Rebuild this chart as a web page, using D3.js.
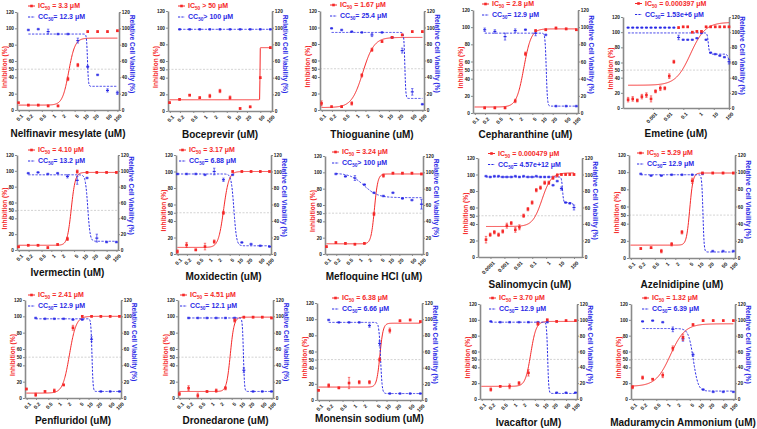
<!DOCTYPE html>
<html><head><meta charset="utf-8">
<script src="https://cdn.jsdelivr.net/npm/d3@7"></script>
<style>
body{margin:0;background:#fff;}
svg{display:block;font-family:"Liberation Sans",Arial,sans-serif;}
</style></head>
<body><svg id="c" width="757" height="429"></svg>
<script>
// ---------------- DATA ----------------
const drugNames = ["Nelfinavir mesylate (uM)","Boceprevir (uM)","Thioguanine (uM)","Cepharanthine (uM)","Emetine (uM)",
  "Ivermectin (uM)","Moxidectin (uM)","Mefloquine HCl (uM)","Salinomycin (uM)","Azelnidipine (uM)",
  "Penfluridol (uM)","Dronedarone (uM)","Monensin sodium (uM)","Ivacaftor (uM)","Maduramycin Ammonium (uM)"];
const ic50Labels = [" = 3.3 μM"," > 50 μM"," = 1.67 μM"," = 2.8 μM"," = 0.000397 μM"," = 4.10 μM"," = 3.17 μM"," = 3.24 μM"," = 0.000479 μM"," = 5.29 μM"," = 2.41 μM"," = 4.51 μM"," = 6.38 μM"," = 3.70 μM"," = 1.32 μM"];
const cc50Labels = ["= 12.3 μM","> 100 μM","= 25.4 μM","= 12.9 μM","= 1.53e+6  μM","= 13.2 μM","= 6.88 μM","> 100 μM","= 4.57e+12 μM","= 12.9 μM","= 12.9 μM","= 12.1 μM","= 6.66 μM","= 12.9 μM","= 6.39 μM"];
const stdTicks = [0.1,0.2,0.5,1,2,5,10,20,50,100];
const emetineTicks = [0.001,0.01,0.1,1,10,100];
const salinoTicks = [0.0001,0.001,0.01,0.1,1,10,100];
const yTicksLeft = [0,20,40,50,60,80,100,120];
const yTicksRight = [0,20,40,60,80,100,120];
const concStd = [0.098,0.195,0.39,0.78,1.56,3.13,6.25,12.5,25,50,100];
const concEmetine = [0.0000238,0.0000477,0.0000954,0.00019,0.00038,0.00076,0.0015,0.0031,0.0061,0.012,0.024,0.049,0.098,0.195,0.39,0.78,1.56,3.13,6.25,12.5,25,50,100];
const concSalino = [0.0000477,0.0000954,0.00019,0.00038,0.00076,0.0015,0.0031,0.0061,0.012,0.024,0.049,0.098,0.195,0.39,0.78,1.56,3.13,6.25,12.5,25,50,100];
// inhibition (%) per panel (null = no point)
const inhibition = [
  [9,6,6,5,5,38,55,96,96,96,97],
  [10,14,19,16,18,24,16,3,5,40,76],
  [8,4,4,8,42,73,83,88,91,95,95],
  [null,6,6,6,14,69,96,97,99,98,97],
  [11,12,10,15,17,12,22,26,26,42,61,106,107,107,100,101,101,107,107,107,107,107,107],
  [4,6,6,3,7,14,99,98,98,98,98],
  [3,11,5,9,15,50,100,100,100,100,100],
  [9,14,13,12,13,49,96,99,99,99,98],
  [21,27,30,27,31,38,41,33,36,50,58,66,81,84,90,90,96,99,100,100,100,100],
  [null,11,12,8,16,30,90,99,99,99,99],
  [11,4,8,9,16,86,100,100,100,100,100],
  [5,12,3,8,9,12,95,99,99,99,98],
  [12,18,15,21,22,22,50,86,98,99,97],
  [null,12,16,16,20,33,95,100,98,99,99],
  [15,27,25,30,64,78,94,99,99,99,99]
];
const inhibitionErr = [
  [0,1,1,1,1,2,2,1,1,1,1],[1,1,1,1,2,2,2,1,1,1,1],[3,1,1,2,2,2,1,1,1,1,1],[0,1,1,1,2,2,1,1,1,1,1],
  [3,3,2,3,3,4,2,3,2,3,2,1,1,1,1,1,1,1,1,1,1,1,1],
  [1,1,1,1,1,2,2,1,1,1,1],[2,3,1,4,2,2,1,1,1,1,1],[1,1,1,1,1,2,2,1,1,1,1],
  [4,2,2,2,2,3,2,3,3,2,2,2,2,2,2,2,2,2,1,1,1,1],
  [0,1,1,2,2,2,3,1,1,1,1],[1,2,1,2,1,3,1,1,1,1,1],[2,3,3,1,2,2,2,1,1,1,1],[1,2,1,7,2,2,2,3,1,1,1],[0,2,1,3,2,4,2,1,1,1,1],[2,2,1,3,3,4,1,1,1,1,1]
];
// relative cell viability (%) per panel
const viability = [
  [null,98,99,96,93,93,85,53,43,24,21],
  [null,98,98,98,98,98,98,98,98,98,98],
  [null,99,97,95,94,91,94,88,72,22,7],
  [null,97,95,89,96,97,93,91,8,8,8],
  [106,106,106,106,106,106,106,106,106,106,106,93,90,90,90,92,99,90,73,71,69,67,61],
  [null,97,98,96,97,93,88,91,15,10,10],
  [97,97,97,96,100,90,96,14,12,10,9],
  [null,98,95,93,85,75,71,75,68,66,61],
  [98,97,98,98,97,97,97,98,97,98,97,97,98,97,97,97,87,92,83,66,65,60],
  [null,98,96,96,97,97,97,98,8,8,8],
  [null,98,97,97,97,96,96,72,8,8,8],
  [null,98,98,98,98,98,98,34,8,8,8],
  [null,99,96,96,96,92,70,8,8,8,8],
  [null,98,97,97,97,97,97,97,8,8,8],
  [null,98,99,97,88,76,56,12,9,9,9]
];
const viabilityErr = [
  [0,1,1,3,1,1,3,1,1,2,2],[0,1,1,1,1,1,1,1,1,1,1],[0,1,1,1,1,2,1,1,3,4,1],[0,2,2,4,2,1,3,1,1,1,1],
  [1,1,1,1,1,1,1,1,1,1,1,3,1,1,1,1,1,1,1,1,1,1,3],
  [0,1,1,1,1,2,5,1,5,1,1],[1,1,1,1,4,2,1,1,1,1,1],[0,1,1,3,1,1,1,1,1,1,6],
  [1,1,1,1,1,1,1,1,1,1,1,1,1,1,1,1,1,1,2,1,1,3],
  [0,1,1,1,1,1,1,1,1,1,1],[0,1,1,1,1,1,1,3,1,1,1],[0,1,1,1,1,1,1,3,1,1,1],[0,1,1,1,1,2,3,1,1,1,1],[0,1,1,1,1,1,1,1,1,1,1],[0,1,1,1,3,3,2,1,1,1,1]
];
// fitted curve parameters: [bottom, top, midpoint conc, slope]
const inhibitionFit = [
  [6,88,3.3,4.5],[13.5,76,49,200],[3,88,1.67,2.6],[7,98,2.8,4],[30,113,0.3,0.9],
  [6,98,4.1,7],[8,100,3.17,5],[12.5,98,3.24,8],[37,102,0.5,1.3],[15,99,5.29,9],
  [6,100,2.41,4],[8,99,4.51,7],[16,95,6.38,9],[16,98,3.7,5],[16,95,1.32,2]
];
// viability: [bottom, top, midpoint conc, slope, second drop size, second midpoint, second slope]
const viabilityFit = [
  [29,93,12.3,30,0,1,1],[98,98,100,1,0,1,1],[14,94,30,30,0,1,1],[8,93,12.9,25,0,1,1],[71,99,4.4,12,8,85,12],
  [11,95,13.2,12,0,1,1],[10,97,6.88,10,0,1,1],[69,99,1.5,2,0,1,1],[66,97,15,12,6,90,12],[7,97,12.9,25,0,1,1],
  [8,97,12.9,25,0,1,1],[8,98,12.1,25,0,1,1],[8,96,6.66,18,0,1,1],[7,97,12.9,25,0,1,1],[10,89,6.39,6,0,1,1]
];
// ---------------- LAYOUT ----------------
const boxes = [
  {l:17,r:119,t:12,b:110,ty:137,lx:11,ly:6},{l:168,r:272,t:11,b:111,ty:138,lx:10,ly:6},{l:320,r:424,t:11,b:110,ty:138,lx:10,ly:5},
  {l:473,r:578,t:10,b:113,ty:138,lx:9,ly:4},{l:623,r:729,t:17,b:108,ty:137,lx:12,ly:3.5},
  {l:17,r:118,t:155,b:250,ty:276,lx:11,ly:150},{l:176,r:271,t:155,b:254,ty:280,lx:3,ly:150},{l:325,r:423,t:156,b:254,ty:280,lx:7,ly:152},
  {l:478,r:582,t:158,b:257,ty:288,lx:10,ly:153.5},{l:629,r:735,t:155,b:258,ty:288,lx:8,ly:153},
  {l:25,r:121,t:300,b:398,ty:424,lx:3,ly:295},{l:178,r:273,t:300,b:398,ty:424,lx:2,ly:295},{l:317,r:422,t:303,b:400,ty:422,lx:15,ly:298},
  {l:480,r:577,t:304,b:399,ty:426,lx:9,ly:298},{l:631,r:735,t:304,b:399,ty:426,lx:11,ly:298}
];
const RED="#f52828", BLUE="#2a2ae6", AX="#8a8a8a";
const svg = d3.select("#c");

boxes.forEach((B,i)=>{
  const conc = i===4 ? concEmetine : (i===8 ? concSalino : concStd);
  const dom = i===4 ? [0.000011,100] : (i===8 ? [0.0000127,376] : [0.088,112]);
  const ticks = i===4 ? emetineTicks : (i===8 ? salinoTicks : stdTicks);
  const x = d3.scaleLog().domain(dom).range([B.l,B.r]);
  const y = d3.scaleLinear().domain([0,120]).range([B.b,B.t]);
  const g = svg.append("g");
  g.append("line").attr("x1",B.l).attr("x2",B.r).attr("y1",y(50)).attr("y2",y(50))
    .attr("stroke","#c8c8c8").attr("stroke-width",0.8).attr("stroke-dasharray","2,1.5");
  const xa = g.append("g").attr("transform",`translate(0,${B.b})`)
    .call(d3.axisBottom(x).tickValues(ticks).tickFormat(d=>String(d)).tickSize(2).tickSizeOuter(0));
  xa.selectAll("text").attr("transform","rotate(-45)").style("text-anchor","end")
    .attr("dx","-0.3em").attr("dy","0.5em").attr("font-size",5.2).attr("font-weight","bold").attr("fill","#222");
  const ya = g.append("g").attr("transform",`translate(${B.l},0)`)
    .call(d3.axisLeft(y).tickValues(yTicksLeft).tickSize(2).tickPadding(1).tickSizeOuter(0));
  ya.selectAll("text").attr("font-size",4.8).attr("fill","#222").attr("font-weight","bold");
  const yb = g.append("g").attr("transform",`translate(${B.r},0)`)
    .call(d3.axisRight(y).tickValues(yTicksRight).tickSize(2).tickPadding(0.8).tickSizeOuter(0));
  yb.selectAll("text").attr("font-size",4.8).attr("fill","#222").attr("font-weight","bold");
  [xa,ya,yb].forEach(a=>{a.select(".domain").attr("stroke",AX).attr("stroke-width",1.6);a.selectAll("line").attr("stroke",AX);});
  const ym=(B.t+B.b)/2;
  g.append("text").attr("transform",`translate(${B.l-10.5},${ym+6}) rotate(-90)`).attr("text-anchor","middle")
    .attr("font-size",6.6).attr("font-weight","bold").attr("fill",RED).text("Inhibition (%)");
  g.append("text").attr("transform",`translate(${B.r+11},${ym-7}) rotate(90)`).attr("text-anchor","middle")
    .attr("font-size",6.6).attr("font-weight","bold").attr("fill",BLUE).text("Relative Cell Viability (%)");
  g.append("text").attr("x",(B.l+B.r)/2).attr("y",B.ty).attr("text-anchor","middle")
    .attr("font-size",10).attr("font-weight","bold").attr("fill","#111").text(drugNames[i]);
  // curves
  const c0 = conc[0], c1 = conc[conc.length-1];
  const xs = d3.range(0,301).map(k=>Math.exp(Math.log(c0)+(Math.log(c1)-Math.log(c0))*k/300));
  const fi = inhibitionFit[i], fv = viabilityFit[i];
  const line = d3.line().x(d=>x(d[0])).y(d=>y(d[1]));
  g.append("path").attr("d",line(xs.map(c=>[c,fi[0]+(fi[1]-fi[0])/(1+Math.pow(fi[2]/c,fi[3]))])))
    .attr("fill","none").attr("stroke",RED).attr("stroke-width",1);
  const xsV = xs.filter(c=>viability[i][0]!==null || c>=conc[1]*0.999);
  g.append("path").attr("d",line(xsV.map(c=>[c,fv[0]+(fv[1]-fv[0])/(1+Math.pow(c/fv[2],fv[3])) - fv[4]/(1+Math.pow(fv[5]/c,fv[6]))])))
    .attr("fill","none").attr("stroke",BLUE).attr("stroke-width",1).attr("stroke-dasharray","2.2,1.4");
  function pts(vals,errs,col,shape){
    vals.forEach((v,k)=>{
      if(v===null) return;
      const cx=x(conc[k]), cy=y(v), e=errs[k]||0;
      if(e>0){
        g.append("line").attr("x1",cx).attr("x2",cx).attr("y1",y(v-e)).attr("y2",y(v+e)).attr("stroke",col).attr("stroke-width",0.7);
        [v-e,v+e].forEach(w=>g.append("line").attr("x1",cx-1.2).attr("x2",cx+1.2).attr("y1",y(w)).attr("y2",y(w)).attr("stroke",col).attr("stroke-width",0.6));
      }
      if(shape==="sq") g.append("rect").attr("x",cx-1.3).attr("y",cy-1.3).attr("width",2.6).attr("height",2.6).attr("fill",col);
      else g.append("rect").attr("x",cx-1.5).attr("y",cy-0.6).attr("width",3).attr("height",1.2).attr("fill",col);
    });
  }
  pts(viability[i],viabilityErr[i],BLUE,"bar");
  pts(inhibition[i],inhibitionErr[i],RED,"sq");
  // legend
  const lx=B.l+B.lx, ly1=B.ly, ly2=B.ly+11;
  g.append("line").attr("x1",lx).attr("x2",lx+7).attr("y1",ly1).attr("y2",ly1).attr("stroke",RED).attr("stroke-width",1);
  g.append("rect").attr("x",lx+2.2).attr("y",ly1-1.3).attr("width",2.6).attr("height",2.6).attr("fill",RED);
  g.append("line").attr("x1",lx).attr("x2",lx+7).attr("y1",ly2).attr("y2",ly2).attr("stroke",BLUE).attr("stroke-width",1).attr("stroke-dasharray","2.2,1.2");
  const t1=g.append("text").attr("x",lx+10).attr("y",ly1+2.4).attr("font-size",7).attr("font-weight","bold").attr("fill",RED);
  t1.append("tspan").text("IC");
  t1.append("tspan").attr("font-size",4.7).attr("dy",1.6).text("50");
  t1.append("tspan").attr("dy",-1.6).text(ic50Labels[i]);
  const t2=g.append("text").attr("x",lx+10).attr("y",ly2+2.4).attr("font-size",7).attr("font-weight","bold").attr("fill",BLUE);
  t2.append("tspan").text("CC");
  t2.append("tspan").attr("font-size",4.7).attr("dy",1.6).text("50");
  t2.append("tspan").attr("dy",-1.6).text(cc50Labels[i]);
});
</script></body></html>
